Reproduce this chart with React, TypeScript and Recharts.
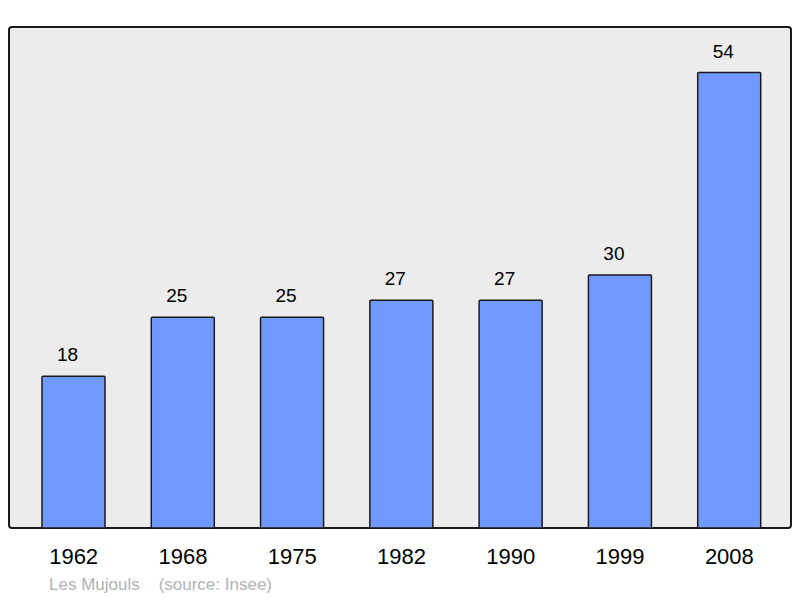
import { Bar, BarChart, LabelList, XAxis, YAxis } from "recharts";

const YEARS = ["1962", "1968", "1975", "1982", "1990", "1999", "2008"];
const POPULATION = [18, 25, 25, 27, 27, 30, 54];
const TOWN = "Les Mujouls";
const SOURCE = "(source: Insee)";

const data = YEARS.map((year, i) => ({ year, pop: POPULATION[i] }));

const FONT = "'Liberation Sans', Arial, sans-serif";

export default function App() {
  return (
    <div style={{ position: "absolute", left: 0, top: 0, width: 800, height: 598, background: "#fff", fontFamily: FONT }}>
      {/* plot frame */}
      <div
        style={{
          position: "absolute",
          left: 8,
          top: 26,
          width: 780,
          height: 499,
          background: "#ececec",
          border: "2px solid #1a1a1a",
          borderRadius: 4,
        }}
      />
      <div style={{ position: "absolute", left: 0, top: 0 }}>
        <BarChart width={800} height={598} data={data} margin={{ top: 27, right: 9, bottom: 30, left: 9 }}>
          <XAxis
            dataKey="year"
            axisLine={false}
            tickLine={false}
            height={40}
            tickMargin={14}
            padding={{ left: 10, right: 7 }}
            tick={{ fill: "#000", fontSize: 22, fontFamily: FONT }}
            interval={0}
          />
          <YAxis hide domain={[0, 59.4]} />
          <Bar dataKey="pop" fill="#7099ff" stroke="#1a1a1a" strokeWidth={1.5} barSize={63} radius={1} isAnimationActive={false}>
            <LabelList dataKey="pop" position="top" offset={15} dx={-6} fill="#000" fontSize={19} fontFamily={FONT} />
          </Bar>
        </BarChart>
      </div>
      <div style={{ position: "absolute", left: 49, top: 575, fontSize: 17, color: "#b3b3b3", whiteSpace: "pre" }}>
        {TOWN}    {SOURCE}
      </div>
    </div>
  );
}
